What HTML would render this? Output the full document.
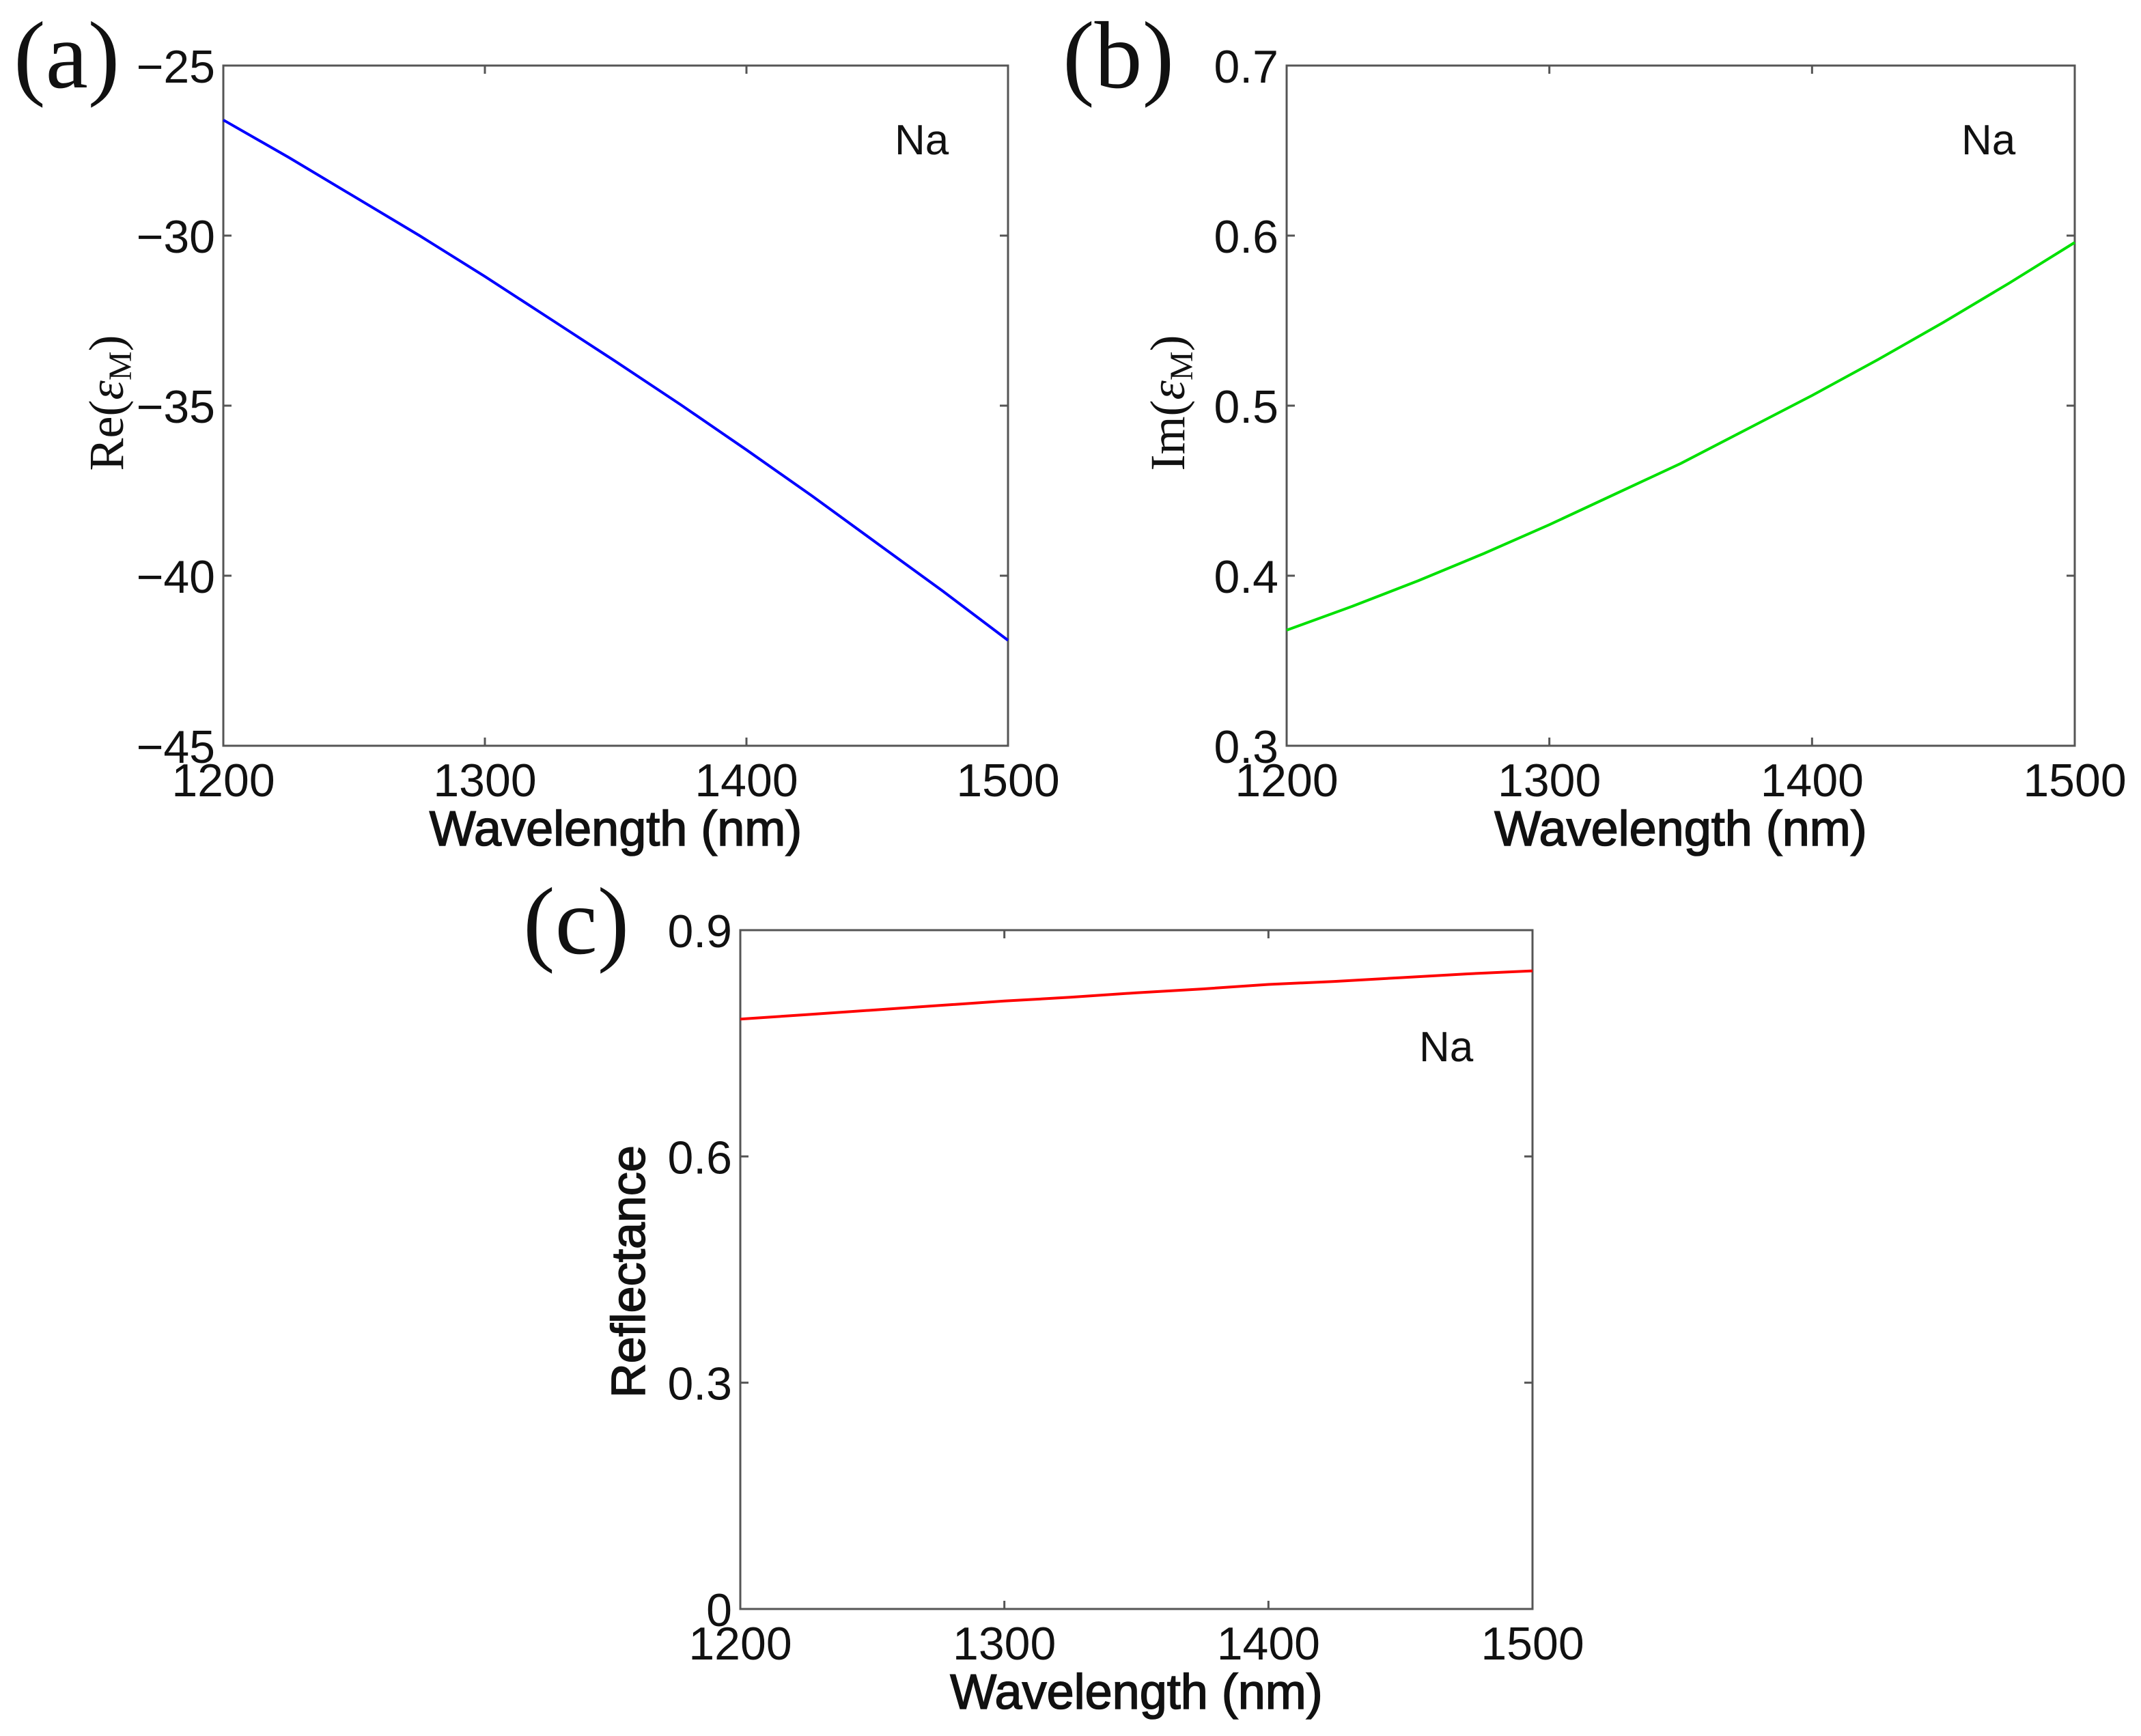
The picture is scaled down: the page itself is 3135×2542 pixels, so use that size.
<!DOCTYPE html>
<html><head><meta charset="utf-8">
<style>
html,body{margin:0;padding:0;background:#fff;}
svg{display:block;}
text{font-family:"Liberation Sans",Arial,sans-serif;fill:#111;}
.serif{font-family:"Liberation Serif","Times New Roman",serif;}
</style></head>
<body>
<svg id="fig" width="3135" height="2542" viewBox="0 0 3135 2542" xmlns="http://www.w3.org/2000/svg"></svg>
<script>
// Shared x data
const wavelengths = [1200, 1225, 1250, 1275, 1300, 1325, 1350, 1375, 1400, 1425, 1450, 1475, 1500];
const xTicks = [1200, 1300, 1400, 1500];
// Panel (a) Re(eps)
const reEps = [-26.6, -27.7, -28.85, -30.0, -31.2, -32.45, -33.7, -34.98, -36.3, -37.65, -39.05, -40.45, -41.9];
const reTicks = [-45, -40, -35, -30, -25];
const reTickLabels = ["\u221245", "\u221240", "\u221235", "\u221230", "\u221225"];
// Panel (b) Im(eps)
const imEps = [0.368, 0.382, 0.397, 0.413, 0.430, 0.448, 0.466, 0.486, 0.506, 0.527, 0.549, 0.572, 0.596];
const imTicks = [0.3, 0.4, 0.5, 0.6, 0.7];
const imTickLabels = ["0.3", "0.4", "0.5", "0.6", "0.7"];
// Panel (c) Reflectance
const refl = [0.782, 0.788, 0.794, 0.800, 0.806, 0.811, 0.817, 0.822, 0.828, 0.832, 0.837, 0.842, 0.846];
const rTicks = [0, 0.3, 0.6, 0.9];
const rTickLabels = ["0", "0.3", "0.6", "0.9"];

const NS = "http://www.w3.org/2000/svg";
const svg = document.getElementById('fig');
function mk(tag, attrs, parent, txt) {
  const e = document.createElementNS(NS, tag);
  for (const k in attrs) e.setAttribute(k, attrs[k]);
  if (txt !== undefined) e.textContent = txt;
  (parent || svg).appendChild(e);
  return e;
}

function panel(cfg) {
  const g = mk('g', {});
  
  
  const L = cfg.x0, R = cfg.x1, T = cfg.y0, B = cfg.y1;
  const sx = v => L + (v - 1200) / 300 * (R - L);
  const sy = v => B - (v - cfg.ymin) / (cfg.ymax - cfg.ymin) * (B - T);
  const box = mk('rect', {x: L, y: T, width: R - L, height: B - T, fill: 'none', stroke: '#555', 'stroke-width': 3}, g);
  
  
  xTicks.forEach(t => {
    const x = sx(t);
    mk('line', {x1: x, y1: B, x2: x, y2: B - 12, stroke: '#555', 'stroke-width': 3}, g);
    mk('line', {x1: x, y1: T, x2: x, y2: T + 12, stroke: '#555', 'stroke-width': 3}, g);
    const tl = mk('text', {x: x, y: cfg.xLabelY, 'font-size': 68, 'text-anchor': 'middle'}, g, String(t));
    
    
  });
  cfg.yTicks.forEach((t, i) => {
    const y = sy(t);
    mk('line', {x1: L, y1: y, x2: L + 12, y2: y, stroke: '#555', 'stroke-width': 3}, g);
    mk('line', {x1: R, y1: y, x2: R - 12, y2: y, stroke: '#555', 'stroke-width': 3}, g);
    const tl = mk('text', {x: L - 12, y: y + 25, 'font-size': 68, 'text-anchor': 'end'}, g, cfg.yLabels[i]);
    
    
  });
  let d = '';
  wavelengths.forEach((w, i) => { d += (i ? 'L' : 'M') + sx(w).toFixed(1) + ',' + sy(cfg.data[i]).toFixed(1); });
  const p = mk('path', {d: d, fill: 'none', stroke: cfg.color, 'stroke-width': 4, 'stroke-linejoin': 'round'}, g);
  
  
  const xt = mk('text', {x: (L + R) / 2, y: cfg.xTitleY, 'font-size': 72, 'text-anchor': 'middle', stroke: '#111', 'stroke-width': 1.6}, g, 'Wavelength (nm)');
  
  
  const na = mk('text', {x: cfg.naX, y: cfg.naY, 'font-size': 62}, g, 'Na');
  
  
  const pl = mk('text', {x: cfg.letterX, y: cfg.letterY, 'font-size': 140, class: 'serif'}, g, cfg.letter);
  
  
  return g;
}

const ga = panel({name: 'panel-a-re-eps', x0: 327, x1: 1476, y0: 96, y1: 1092, ymin: -45, ymax: -25,
  yTicks: reTicks, yLabels: reTickLabels, data: reEps, color: '#0000ff', xLabelY: 1166, xTitleY: 1238,
  naX: 1310, naY: 226, letter: '(a)', letterX: 20, letterY: 128});
const gb = panel({name: 'panel-b-im-eps', x0: 1884, x1: 3038, y0: 96, y1: 1092, ymin: 0.3, ymax: 0.7,
  yTicks: imTicks, yLabels: imTickLabels, data: imEps, color: '#00e000', xLabelY: 1166, xTitleY: 1238,
  naX: 2872, naY: 226, letter: '(b)', letterX: 1556, letterY: 128});
const gc = panel({name: 'panel-c-reflectance', x0: 1084, x1: 2244, y0: 1362, y1: 2356, ymin: 0, ymax: 0.9,
  yTicks: rTicks, yLabels: rTickLabels, data: refl, color: '#ff0000', xLabelY: 2430, xTitleY: 2502,
  naX: 2078, naY: 1554, letter: '(c)', letterX: 766, letterY: 1396});

let yt = mk('text', {transform: 'translate(180,590) rotate(-90)', 'font-size': 72, 'text-anchor': 'middle', class: 'serif'}, ga);


mk('tspan', {}, yt, 'Re(');
mk('tspan', {'font-style': 'italic'}, yt, 'ε');
mk('tspan', {'font-size': 48, dy: 12}, yt, 'M');
mk('tspan', {dy: -12}, yt, ')');

yt = mk('text', {transform: 'translate(1734,590) rotate(-90)', 'font-size': 72, 'text-anchor': 'middle', class: 'serif'}, gb);


mk('tspan', {}, yt, 'Im(');
mk('tspan', {'font-style': 'italic'}, yt, 'ε');
mk('tspan', {'font-size': 48, dy: 12}, yt, 'M');
mk('tspan', {dy: -12}, yt, ')');

yt = mk('text', {transform: 'translate(944,1862) rotate(-90)', 'font-size': 70, 'text-anchor': 'middle', stroke: '#111', 'stroke-width': 1.6}, gc, 'Reflectance');


</script>
</body></html>
